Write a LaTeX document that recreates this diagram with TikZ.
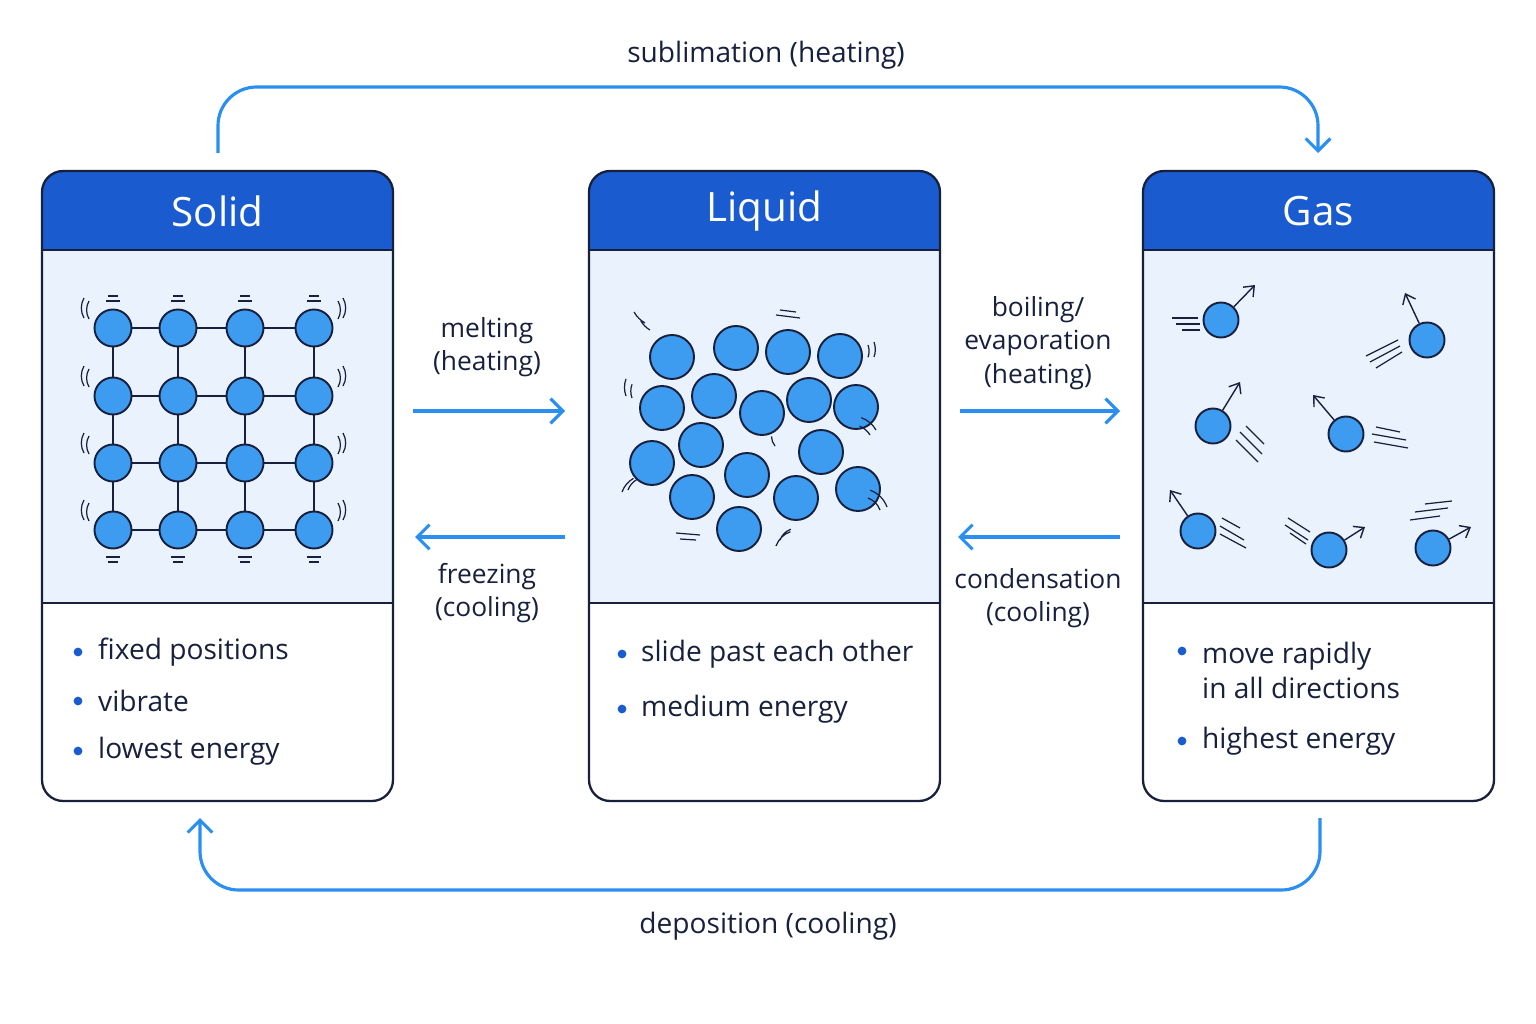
\documentclass[tikz,border=0pt]{standalone}
\usepackage{fontspec}
\setmainfont{Open Sans}
\usetikzlibrary{arrows.meta}
\definecolor{hdr}{HTML}{1A5CCF}
\definecolor{pale}{HTML}{EAF3FD}
\definecolor{ball}{HTML}{3D9BF0}
\definecolor{ink}{HTML}{17213D}
\definecolor{arr}{HTML}{2A8FF0}
\tikzset{
  panel/.style={draw=ink,line width=1.3pt,rounded corners=12pt},
  mol/.style={circle,draw=ink,fill=ball,line width=1.1pt,minimum size=37*0.02cm,inner sep=0},
  lmol/.style={circle,draw=ink,fill=ball,line width=1.1pt,minimum size=44*0.02cm,inner sep=0},
  gmol/.style={circle,draw=ink,fill=ball,line width=1.1pt,minimum size=35*0.02cm,inner sep=0},
  flow/.style={draw=arr,line width=1.8pt,-{Straight Barb[length=7pt,width=14pt]}},
  lab/.style={text=ink,font=\fontsize{15}{19}\selectfont,align=center},
  title/.style={text=white,font=\fontsize{23}{27}\selectfont},
  item/.style={text=ink,font=\fontsize{16}{20}\selectfont,anchor=west,align=left},
  dot/.style={circle,fill=hdr,inner sep=0,minimum size=5pt},
  vib/.style={draw=ink,line width=0.7pt},
  mv/.style={draw=ink,line width=0.8pt,-{Straight Barb[length=5pt,width=8pt]}}
}
\begin{document}
\begin{tikzpicture}[x=0.02cm,y=-0.02cm]
\useasboundingbox[fill=white] (0,0) rectangle (1536,1024);
% panels
\foreach \n/\xa/\t in {S/42/Solid,L/589/Liquid,G/1143/Gas}{
  \pgfmathsetmacro\xb{\xa+351}
  \begin{scope}
  \clip[rounded corners=12pt] (\xa,171) rectangle (\xb,801);
  \fill[hdr] (\xa,171) rectangle (\xb,250);
  \fill[pale] (\xa,250) rectangle (\xb,603);
  \end{scope}
  \draw[ink,line width=1.3pt] (\xa,250) -- (\xb,250) (\xa,603) -- (\xb,603);
  \draw[panel] (\xa,171) rectangle (\xb,801);
  \node[title] (t\n) at ({(\xa+\xb)/2},211) {\t};
}
% solid lattice
\foreach \i/\x in {1/113,2/178,3/245,4/314}{
  \foreach \j/\y in {1/328,2/396,3/463,4/530}{
    \coordinate (s\i\j) at (\x,\y);
  }}
\foreach \j in {1,2,3,4}{\draw[ink,line width=1.1pt] (s1\j) -- (s4\j);}
\foreach \i in {1,2,3,4}{\draw[ink,line width=1.1pt] (s\i1) -- (s\i4);}
\foreach \i in {1,2,3,4}{\foreach \j in {1,2,3,4}{\node[mol] (m\i\j) at (s\i\j) {};}}
\foreach \j/\y in {1/328,2/396,3/463,4/530}{
  \draw[vib] (89,\y-9) arc (150:210:18) (84,\y-10) arc (150:210:20);
  \draw[vib] (338,\y-9) arc (30:-30:18) (343,\y-10) arc (30:-30:20);
}
\foreach \x in {113,178,245,314}{
  \draw[vib] (\x-7,301) -- (\x+7,301) (\x-5,296) -- (\x+5,296);
  \draw[vib] (\x-7,557) -- (\x+7,557) (\x-5,562) -- (\x+5,562);
}
% liquid
\foreach \k/\x/\y in {1/672/357,2/736/348,3/788/352,4/840/356,5/662/408,6/714/396,7/762/413,8/809/400,9/856/407,10/652/463,11/701/445,12/747/475,13/821/452,14/692/497,15/796/498,16/858/489,17/739/529}{
  \node[lmol] (l\k) at (\x,\y) {};
}
\draw[vib] (650,330) arc (120:150:25) (645,323) arc (120:150:30);
\draw[vib] (776,315) -- (800,318) (780,310) -- (796,312);
\draw[vib] (868,345) arc (-20:20:18) (874,342) arc (-20:20:22);
\draw[vib] (632,398) arc (160:200:20) (626,396) arc (160:200:25);
\draw[vib] (870,435) arc (-30:-70:20) (876,430) arc (-30:-70:28);
\draw[vib] (628,490) arc (200:240:20) (622,492) arc (200:240:26);
\draw[vib] (880,510) arc (-20:-70:20) (887,507) arc (-20:-70:28);
\draw[vib] (780,540) arc (200:250:18) (776,546) arc (200:250:24);
\draw[vib] (676,533) -- (700,535) (680,539) -- (696,540);
\draw[vib] (775,446) arc (140:180:15);
% gas
\foreach \k/\x/\y/\dx/\dy in {1/1221/320/34/-35,2/1427/340/-22/-47,3/1213/426/27/-44,4/1346/434/-33/-39,5/1198/531/-28/-41,6/1329/550/36/-23,7/1433/548/38/-21}{
  \node[gmol] (g\k) at (\x,\y) {};
  \draw[mv] (g\k) -- ++(\dx,\dy);
}
\draw[vib] (1172,318) -- (1198,318) (1176,324) -- (1200,324) (1182,330) -- (1200,330);
\draw[vib] (1366,356) -- (1398,340) (1370,362) -- (1400,346) (1376,368) -- (1402,352);
\draw[vib] (1236,440) -- (1258,462) (1240,432) -- (1262,454) (1246,426) -- (1264,444);
\draw[vib] (1372,434) -- (1406,440) (1374,442) -- (1408,448) (1376,427) -- (1400,432);
\draw[vib] (1220,526) -- (1244,540) (1220,534) -- (1246,548) (1222,518) -- (1240,528);
\draw[vib] (1285,525) -- (1308,540) (1288,518) -- (1310,532) (1290,533) -- (1306,544);
\draw[vib] (1410,520) -- (1440,516) (1415,512) -- (1448,508) (1425,504) -- (1452,501);
% bullets
\foreach \y/\t in {652/fixed positions,701/vibrate,751/lowest energy}{
  \node[dot] at (78,\y) {}; \node[item] at (92,\y) {\t};}
\foreach \y/\t in {654/slide past each other,709/medium energy}{
  \node[dot] at (622,\y) {}; \node[item] at (635,\y) {\t};}
\node[dot] at (1182,651) {}; \node[item,anchor=north west] at (1196,636) {move rapidly\\in all directions};
\node[dot] at (1182,741) {}; \node[item] at (1196,741) {highest energy};
% transitions
\coordinate (a1) at (413,411); \coordinate (a2) at (565,411);
\coordinate (b1) at (565,537); \coordinate (b2) at (415,537);
\coordinate (c1) at (960,411); \coordinate (c2) at (1120,411);
\coordinate (d1) at (1120,537); \coordinate (d2) at (958,537);
\draw[flow] (a1) -- (a2);
\draw[flow] (b1) -- (b2);
\draw[flow] (c1) -- (c2);
\draw[flow] (d1) -- (d2);
\node[lab] (ml) at (487,347) {melting\\(heating)};
\node[lab] (fl) at (487,593) {freezing\\(cooling)};
\node[lab] (bl) at (1038,343) {boiling/\\evaporation\\(heating)};
\node[lab] (cl) at (1038,598) {condensation\\(cooling)};
\coordinate (u1) at (218,153); \coordinate (u2) at (1318,153);
\coordinate (v1) at (1320,818); \coordinate (v2) at (200,818);
\draw[flow,rounded corners=22pt] (u1) |- (768,87) -| (u2);
\draw[flow,rounded corners=22pt] (v1) |- (768,890) -| (v2);
\node[lab,font=\fontsize{16}{20}\selectfont] (sl) at (766,55) {sublimation (heating)};
\node[lab,font=\fontsize{16}{20}\selectfont] (dl) at (768,926) {deposition (cooling)};
\end{tikzpicture}
\end{document}
